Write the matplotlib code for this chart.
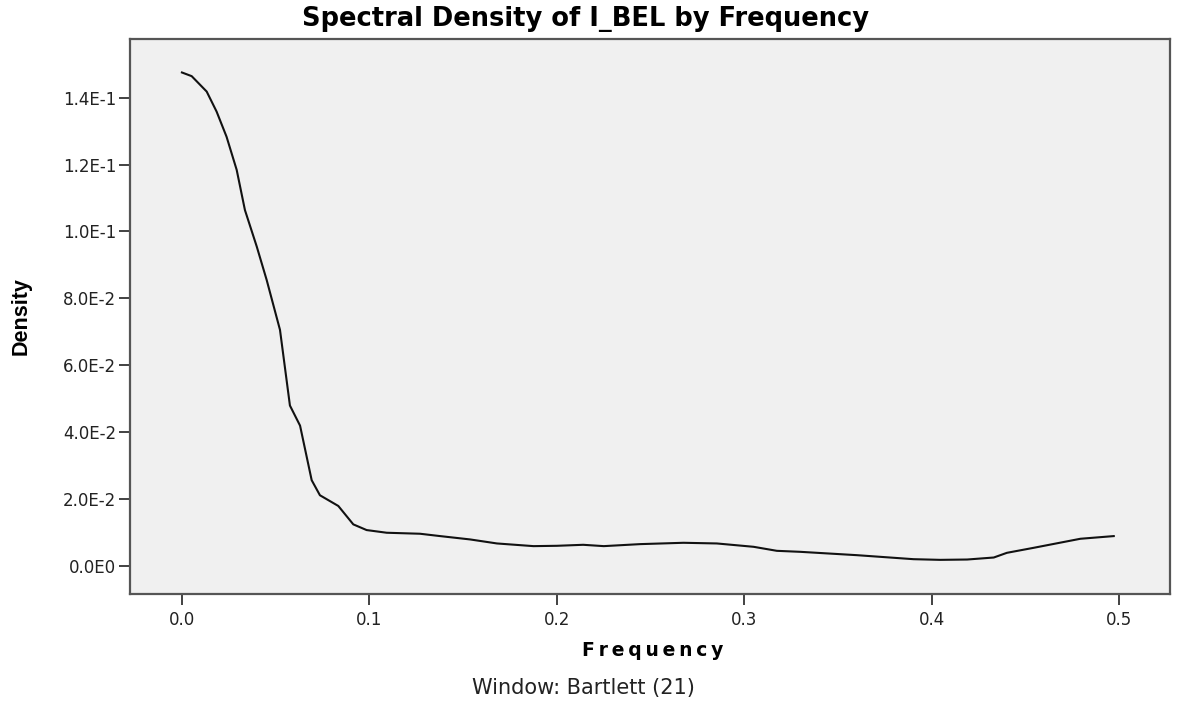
import matplotlib
matplotlib.use('Agg')
import matplotlib.pyplot as plt
from matplotlib.ticker import FuncFormatter

# values
freq = [0.0, 0.0052, 0.0132, 0.0185, 0.0238, 0.0292, 0.0336, 0.0399, 0.0452,
        0.0523, 0.0576, 0.063, 0.0692, 0.0736, 0.0834, 0.0914, 0.0985, 0.1092,
        0.127, 0.1377, 0.1537, 0.168, 0.1875, 0.2, 0.214, 0.225, 0.2444,
        0.2675, 0.2853, 0.3049, 0.3173, 0.3298, 0.36, 0.3902, 0.4045, 0.4188,
        0.433, 0.44, 0.4543, 0.4792, 0.497]
density = [0.1475, 0.1464, 0.1418, 0.1358, 0.1283, 0.1184, 0.1064, 0.0955, 0.0855,
           0.0706, 0.0480, 0.0420, 0.0257, 0.0212, 0.0180, 0.0125, 0.0108, 0.0100,
           0.0097, 0.0090, 0.0080, 0.0068, 0.0060, 0.0061, 0.0064, 0.0060, 0.0066,
           0.0070, 0.0068, 0.0058, 0.0046, 0.0043, 0.0033, 0.0021, 0.0019, 0.0020,
           0.0026, 0.0040, 0.0055, 0.0082, 0.0090]

x_ticks = [0.0, 0.1, 0.2, 0.3, 0.4, 0.5]
y_ticks = [0.0, 0.02, 0.04, 0.06, 0.08, 0.10, 0.12, 0.14]

plt.rcParams['font.family'] = ['DejaVu Sans']

fig = plt.figure(figsize=(11.79, 7.11), dpi=100)
ax = fig.add_axes([130 / 1179, 1 - 594 / 711, 1040 / 1179, 555 / 711])
ax.set_facecolor('#f0f0f0')

ax.plot(freq, density, color='#111111', linewidth=1.5)

ax.set_xlim(-0.0277, 0.527)
ax.set_ylim(-0.0083, 0.1575)
ax.set_xticks(x_ticks)
ax.set_yticks(y_ticks)
ax.xaxis.set_major_formatter(FuncFormatter(lambda v, p: '%.1f' % v))


def sci(v, p):
    # SPSS style labels: 1.4E-1, 0.0E0
    if abs(v) < 1e-12:
        return '0.0E0'
    mant, ex = ('%.1E' % v).split('E')
    return '%sE%d' % (mant, int(ex))


ax.yaxis.set_major_formatter(FuncFormatter(sci))
ax.tick_params(axis='both', labelsize=12, length=8, width=1.3, color='#333333',
               labelcolor='#222222')
ax.tick_params(axis='y', pad=2)
ax.tick_params(axis='x', pad=4)

for sp in ax.spines.values():
    sp.set_color('#555555')
    sp.set_linewidth(1.6)

fig.text(0.497, 1 - 19 / 711, 'Spectral Density of I_BEL by Frequency', ha='center', va='center',
         fontsize=18.5, fontweight='bold')
fig.text(21 / 1179, 1 - 316 / 711, 'Density', rotation=90, ha='center', va='center',
         fontsize=15.5, fontweight='bold', family=['Liberation Sans', 'DejaVu Sans'])
fig.text(653 / 1179, 1 - 650 / 711, '\u2009'.join('Frequency'), ha='center', va='center',
         fontsize=13.5, fontweight='bold')
fig.text(583 / 1179, 1 - 688 / 711, 'Window: Bartlett (21)', ha='center', va='center',
         fontsize=15, color='#222222')

fig.savefig('out.png', dpi=100)
